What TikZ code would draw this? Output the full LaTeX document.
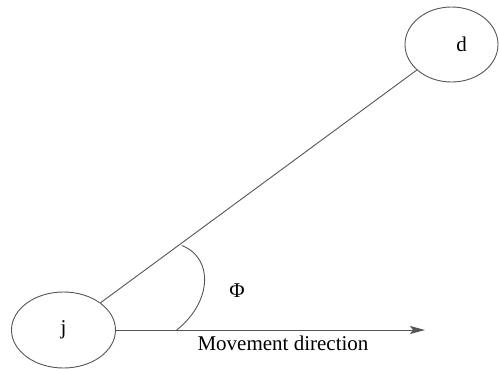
\documentclass[tikz,border=0pt]{standalone}
\usepackage{fontspec}
\setmainfont{Liberation Serif}
\usetikzlibrary{shapes.geometric,arrows.meta}
\definecolor{ln}{RGB}{85,85,85}
\begin{document}
\begin{tikzpicture}[x=1pt,y=-1pt,
  every node/.style={font=\fontsize{21}{25}\selectfont, text=black},
  circ/.style={ellipse, draw=ln, line width=0.9pt, inner sep=0pt},
  conn/.style={draw=ln, line width=0.9pt},
  lbl/.style={inner sep=0pt}]
\useasboundingbox (0,0) rectangle (499,368);
\node[circ, minimum width=104pt, minimum height=76pt] (j) at (63.5,330) {j};
\node[circ, minimum width=93pt, minimum height=75pt] (d) at (451.5,44.5) {\hspace*{20pt}d};
\coordinate (tip) at (425,330);
\draw[conn] (j) -- (d);
\draw[conn, -{Stealth[length=15pt,width=8pt,inset=3pt]}] (j.east) -- (tip);
\coordinate (a0) at (181.7,245.5);
\coordinate (a1) at (176.7,330);
\draw[conn] (a0) .. controls (214,258) and (212,302) .. (a1);
\node[lbl] (phi) at (237,291) {Φ};
\node[lbl] (mv) at (283,343) {Movement direction};
\end{tikzpicture}
\end{document}
